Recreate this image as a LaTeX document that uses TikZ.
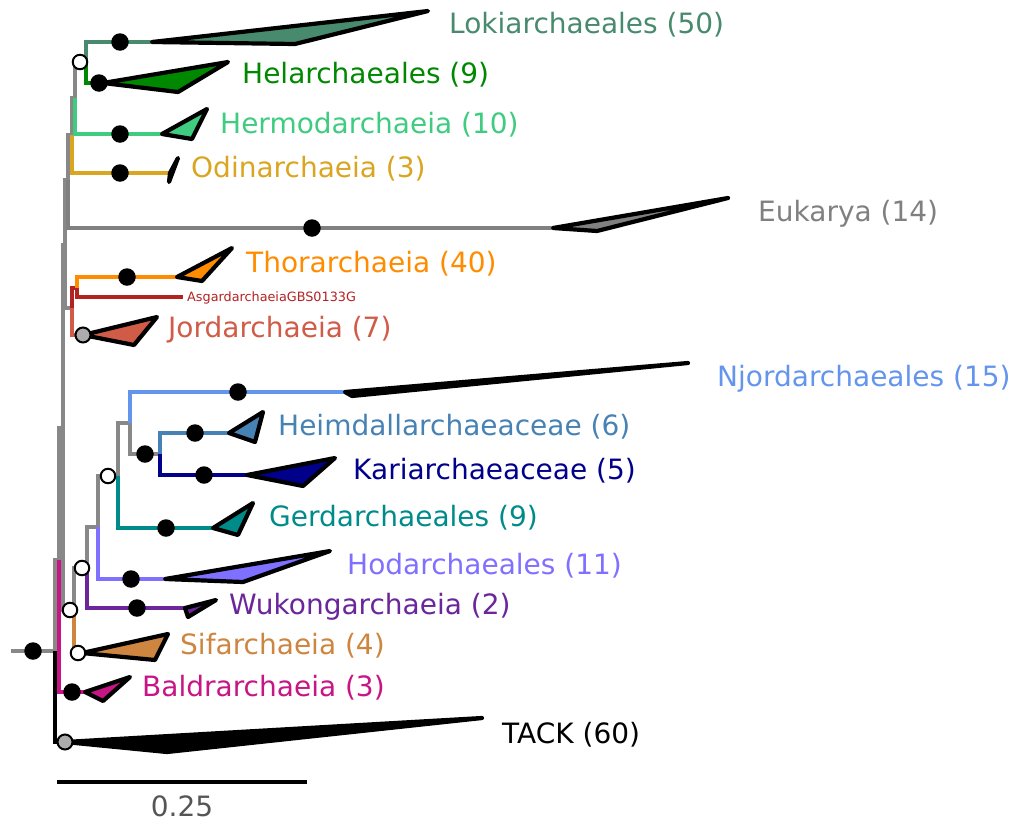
\documentclass[tikz,border=0pt]{standalone}
\usepackage{fontspec}
\setmainfont{DejaVu Sans}
\definecolor{bgray}{RGB}{136,136,136}
\definecolor{loki}{RGB}{72,138,110}
\definecolor{hel}{RGB}{0,136,0}
\definecolor{hermod}{RGB}{64,204,128}
\definecolor{odin}{RGB}{218,165,32}
\definecolor{euk}{RGB}{128,128,128}
\definecolor{thor}{RGB}{255,140,0}
\definecolor{gbs}{RGB}{178,34,34}
\definecolor{jord}{RGB}{208,92,72}
\definecolor{njord}{RGB}{100,149,237}
\definecolor{heim}{RGB}{70,130,180}
\definecolor{kari}{RGB}{0,0,139}
\definecolor{gerd}{RGB}{0,139,139}
\definecolor{hod}{RGB}{128,112,255}
\definecolor{wuk}{RGB}{106,38,154}
\definecolor{sif}{RGB}{205,133,63}
\definecolor{baldr}{RGB}{199,21,133}
\definecolor{scal}{RGB}{85,85,85}
\begin{document}
\begin{tikzpicture}[x=1pt,y=-1pt,
  br/.style={line width=3.3pt, line join=miter},
  tri/.style={draw=black, line width=4.2pt, line join=round},
  dotb/.style={circle, fill=black, inner sep=0pt, minimum size=17.5pt},
  dotw/.style={circle, draw=black, line width=2pt, fill=white, inner sep=0pt, minimum size=14.5pt},
  dotg/.style={circle, draw=black, line width=2pt, fill=bgray!70, inner sep=0pt, minimum size=15pt},
  lab/.style={anchor=west, inner sep=0pt, font=\fontsize{28}{30}\selectfont}]
\useasboundingbox (0,0) rectangle (1012,825);

% internal nodes
\coordinate (stem) at (11,651);
\coordinate (R) at (55,651);
\coordinate (N1) at (59,560);
\coordinate (N2) at (63,428);
\coordinate (N3) at (65,245);
\coordinate (N10) at (68,180);
\coordinate (N12) at (72,135);
\coordinate (N13) at (75,98);
\coordinate (N14) at (86,62);
\coordinate (N11) at (72,308);
\coordinate (N15) at (77,288);
\coordinate (N4) at (74,610);
\coordinate (N5) at (87,568);
\coordinate (N6) at (98,527);
\coordinate (N7) at (118,476);
\coordinate (N8) at (130,423);
\coordinate (N9) at (160,454);

% tips (triangle vertices)
\coordinate (tLoki) at (152,42);
\coordinate (tHel) at (103,83);
\coordinate (tHermod) at (162,134);
\coordinate (tOdin) at (170,173);
\coordinate (tEuk) at (553,228);
\coordinate (tThor) at (177,277);
\coordinate (tGBS) at (183,297);
\coordinate (tJord) at (83,335);
\coordinate (tNjord) at (345,392);
\coordinate (tHeim) at (229,433);
\coordinate (tKari) at (247,475);
\coordinate (tGerd) at (213,528);
\coordinate (tHod) at (165,579);
\coordinate (tWuk) at (185,608);
\coordinate (tSif) at (82,653);
\coordinate (tBaldr) at (85,692);
\coordinate (tTack) at (65,742);

% gray branches
\draw[br, bgray] (stem) -- (R);
\draw[br, bgray] (R) |- (N1);
\draw[br, bgray] (N1) |- (N2);
\draw[br, bgray] (N2) |- (N3);
\draw[br, bgray] (N2) |- (N4);
\draw[br, bgray] (N3) |- (N10);
\draw[br, bgray] (N3) |- (N11);
\draw[br, bgray] (N10) |- (N12);
\draw[br, euk] (N10) |- (tEuk);
\draw[br, bgray] (N12) |- (N13);
\draw[br, bgray] (N13) |- (N14);
\draw[br, bgray] (N4) |- (N5);
\draw[br, bgray] (N5) |- (N6);
\draw[br, bgray] (N6) |- (N7);
\draw[br, bgray] (N7) |- (N8);
\draw[br, bgray] (N8) |- (N9);

% coloured branches
\draw[br, black] (R) |- (tTack);
\draw[br, baldr] (N1) |- (tBaldr);
\draw[br, sif] (N4) |- (tSif);
\draw[br, wuk] (N5) |- (tWuk);
\draw[br, hod] (N6) |- (tHod);
\draw[br, gerd] (N7) |- (tGerd);
\draw[br, njord] (N8) |- (tNjord);
\draw[br, heim] (N9) |- (tHeim);
\draw[br, kari] (N9) |- (tKari);
\draw[br, gbs] (N11) |- (N15);
\draw[br, jord] (N11) |- (tJord);
\draw[br, thor] (N15) |- (tThor);
\draw[br, gbs] (N15) |- (tGBS);
\draw[br, odin] (N12) |- (tOdin);
\draw[br, hermod] (N13) |- (tHermod);
\draw[br, loki] (N14) |- (tLoki);
\draw[br, hel] (N14) |- (tHel);

% collapsed clades
\draw[tri, fill=loki] (tLoki) -- (428,11) -- (295,44) -- cycle;
\draw[tri, fill=hel] (tHel) -- (228,62) -- (178,92) -- cycle;
\draw[tri, fill=hermod] (tHermod) -- (207,109) -- (192,139) -- cycle;
\draw[tri, fill=black] (tOdin) -- (178,158) -- (169,182) -- cycle;
\draw[tri, fill=euk] (tEuk) -- (728,198) -- (597,231) -- cycle;
\draw[tri, fill=thor] (tThor) -- (232,248) -- (202,281) -- cycle;
\draw[tri, fill=jord] (tJord) -- (157,317) -- (134,345) -- cycle;
\draw[tri, fill=black] (tNjord) -- (688,363) -- (352,396) -- cycle;
\draw[tri, fill=heim] (tHeim) -- (263,412) -- (255,442) -- cycle;
\draw[tri, fill=kari] (tKari) -- (335,458) -- (303,486) -- cycle;
\draw[tri, fill=gerd] (tGerd) -- (253,503) -- (238,535) -- cycle;
\draw[tri, fill=hod] (tHod) -- (330,551) -- (243,582) -- cycle;
\draw[tri, fill=wuk] (tWuk) -- (216,600) -- (188,617) -- cycle;
\draw[tri, fill=sif] (tSif) -- (168,634) -- (155,660) -- cycle;
\draw[tri, fill=baldr] (tBaldr) -- (130,677) -- (103,701) -- cycle;
\draw[tri, fill=black] (tTack) -- (482,718) -- (167,752) -- cycle;

% support symbols
\node[dotb] (sRoot) at (33,651) {};
\node[dotb] (sLoki) at (120,42) {};
\node[dotb] (sHel) at (99,83) {};
\node[dotw] (sN14) at (80,62) {};
\node[dotb] (sHermod) at (120,134) {};
\node[dotb] (sOdin) at (120,173) {};
\node[dotb] (sEuk) at (312,228) {};
\node[dotb] (sThor) at (127,277) {};
\node[dotg] (sJord) at (83,335) {};
\node[dotb] (sNjord) at (238,392) {};
\node[dotb] (sN9) at (145,454) {};
\node[dotb] (sHeim) at (195,433) {};
\node[dotb] (sKari) at (204,475) {};
\node[dotw] (sN7) at (108,476) {};
\node[dotb] (sGerd) at (166,528) {};
\node[dotb] (sHod) at (131,579) {};
\node[dotw] (sN5) at (82,568) {};
\node[dotb] (sWuk) at (137,608) {};
\node[dotw] (sN4) at (70,610) {};
\node[dotw] (sSif) at (78,653) {};
\node[dotb] (sBaldr) at (72,692) {};
\node[dotg] (sTack) at (65,742) {};

% labels
\node[lab, text=loki] (lLoki) at (449,25) {Lokiarchaeales (50)};
\node[lab, text=hel] (lHel) at (242,75) {Helarchaeales (9)};
\node[lab, text=hermod] (lHermod) at (220,125) {Hermodarchaeia (10)};
\node[lab, text=odin] (lOdin) at (191,169) {Odinarchaeia (3)};
\node[lab, text=euk] (lEuk) at (758,214) {Eukarya (14)};
\node[lab, text=thor] (lThor) at (246,264) {Thorarchaeia (40)};
\node[anchor=west, inner sep=0pt, font=\fontsize{12.8}{14}\selectfont, text=gbs] (lGBS) at (187,298) {AsgardarchaeiaGBS0133G};
\node[lab, text=jord] (lJord) at (168,330) {Jordarchaeia (7)};
\node[lab, text=njord] (lNjord) at (717,379) {Njordarchaeales (15)};
\node[lab, text=heim] (lHeim) at (278,427) {Heimdallarchaeaceae (6)};
\node[lab, text=kari] (lKari) at (353,471) {Kariarchaeaceae (5)};
\node[lab, text=gerd] (lGerd) at (269,518) {Gerdarchaeales (9)};
\node[lab, text=hod] (lHod) at (347,566) {Hodarchaeales (11)};
\node[lab, text=wuk] (lWuk) at (229,607) {Wukongarchaeia (2)};
\node[lab, text=sif] (lSif) at (180,646) {Sifarchaeia (4)};
\node[lab, text=baldr] (lBaldr) at (142,688) {Baldrarchaeia (3)};
\node[lab, text=black] (lTack) at (502,735) {TACK (60)};

% scale bar
\coordinate (sb1) at (57,782);
\coordinate (sb2) at (307,782);
\draw[line width=4pt, black] (sb1) -- (sb2);
\node[font=\fontsize{28}{30}\selectfont, text=scal, inner sep=0pt] (lScale) at (182,806) {0.25};
\end{tikzpicture}
\end{document}
